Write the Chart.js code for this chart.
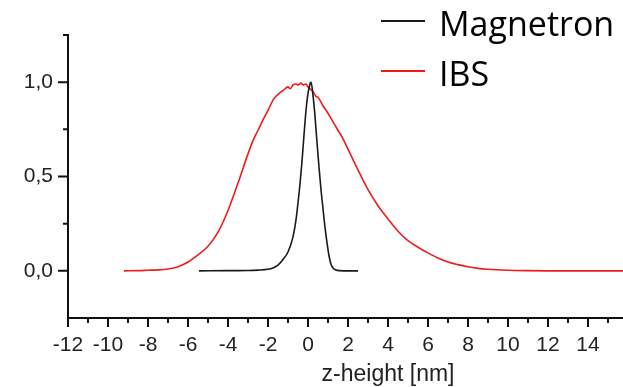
<!DOCTYPE html>
<html>
<head>
<meta charset="utf-8">
<script src="https://cdn.jsdelivr.net/npm/chart.js@4.4.1/dist/chart.umd.min.js"></script>
<style>
  html, body { margin: 0; padding: 0; background: #fff; overflow: hidden; }
</style>
</head>
<body>
<canvas id="profileChart" width="623" height="387"></canvas>
<script>
// z-height profiles
const magnetronX = [-5.45, -4, -3, -2.5, -2, -1.75, -1.5, -1.25, -1, -0.75, -0.6, -0.5, -0.4, -0.3, -0.2, -0.1, 0, 0.1, 0.15, 0.25, 0.35, 0.45, 0.55, 0.65, 0.75, 0.85, 0.95, 1.05, 1.15, 1.25, 1.4, 1.6, 2, 2.5];
const magnetronY = [0, 0.001, 0.002, 0.004, 0.008, 0.015, 0.03, 0.06, 0.1, 0.18, 0.27, 0.36, 0.46, 0.58, 0.72, 0.85, 0.94, 0.99, 1.0, 0.93, 0.82, 0.68, 0.55, 0.43, 0.33, 0.23, 0.15, 0.08, 0.035, 0.015, 0.004, 0.001, 0, 0];

const ibsX = [-9.2, -8.5, -8, -7.5, -7, -6.5, -6, -5.5, -5, -4.5, -4, -3.5, -3, -2.75, -2.5, -2.25, -2, -1.75, -1.6, -1.4, -1.25, -1, -0.9, -0.75, -0.6, -0.5, -0.35, -0.25, -0.1, 0, 0.25, 0.4, 0.5, 0.75, 1, 1.25, 1.5, 1.75, 2, 2.5, 3, 3.5, 4, 4.5, 5, 5.5, 6, 6.5, 7, 7.5, 8, 8.5, 9, 10, 11, 12, 13, 14, 15, 16];
const ibsY = [0, 0.001, 0.003, 0.005, 0.01, 0.022, 0.047, 0.085, 0.13, 0.205, 0.32, 0.465, 0.62, 0.69, 0.745, 0.8, 0.85, 0.905, 0.925, 0.945, 0.955, 0.975, 0.965, 0.985, 0.99, 0.985, 0.995, 0.985, 0.99, 0.975, 0.95, 0.925, 0.92, 0.875, 0.835, 0.79, 0.745, 0.70, 0.645, 0.535, 0.43, 0.345, 0.275, 0.21, 0.16, 0.125, 0.095, 0.068, 0.047, 0.033, 0.022, 0.013, 0.008, 0.003, 0.001, 0, 0, 0, 0, 0];

const seriesNames = ['Magnetron', 'IBS'];
const seriesColors = ['#1a1a1a', '#ee1c1c'];

const xTickValues = [-12, -10, -8, -6, -4, -2, 0, 2, 4, 6, 8, 10, 12, 14];
const yTickValues = [0, 0.5, 1.0];
const xTitle = 'z-height [nm]';

function toPoints(xs, ys) {
    let pts = [];
    for (let i = 0; i < xs.length; i++) {
        pts.push({ x: xs[i], y: ys[i] });
    }
    return pts;
}

// minor/major ticks, axis title and the legend in the top right
const decor = {
    id: 'decor',
    afterDraw(chart) {
        const ctx = chart.ctx;
        const xs = chart.scales.x;
        const ys = chart.scales.y;
        ctx.save();
        ctx.strokeStyle = '#111';
        ctx.lineWidth = 2;
        ctx.beginPath();
        for (let v = -12; v <= 15; v++) {
            let px = xs.getPixelForValue(v);
            let len = v % 2 === 0 ? 9 : 5;
            ctx.moveTo(px, xs.top);
            ctx.lineTo(px, xs.top + len);
        }
        for (let v = 0; v <= 1.25; v += 0.25) {
            let py = ys.getPixelForValue(v);
            let len = (v * 4) % 2 === 0 ? 10 : 5;
            ctx.moveTo(ys.right, py);
            ctx.lineTo(ys.right - len, py);
        }
        ctx.stroke();

        ctx.fillStyle = '#222';
        ctx.font = '23px "Liberation Sans", Arial, sans-serif';
        ctx.textAlign = 'center';
        ctx.textBaseline = 'alphabetic';
        ctx.fillText(xTitle, xs.getPixelForValue(4), 381);

        ctx.textAlign = 'left';
        ctx.font = '34px "Open Sans", "Noto Sans", sans-serif';
        chart.data.datasets.forEach((ds, i) => {
            let lineY = 21 + i * 50;
            ctx.strokeStyle = ds.borderColor;
            ctx.lineWidth = 2;
            ctx.beginPath();
            ctx.moveTo(381, lineY);
            ctx.lineTo(425, lineY);
            ctx.stroke();
            ctx.fillStyle = '#000';
            ctx.fillText(ds.label, 439, lineY + 15);
        });
        ctx.restore();
    }
};

const tickFont = { family: '"Liberation Sans", Arial, sans-serif', size: 21 };

new Chart(document.getElementById('profileChart').getContext('2d'), {
    type: 'line',
    data: {
        datasets: [{
            label: seriesNames[0],
            data: toPoints(magnetronX, magnetronY),
            borderColor: seriesColors[0],
            borderWidth: 1.6,
            pointRadius: 0,
            cubicInterpolationMode: 'monotone'
        }, {
            label: seriesNames[1],
            data: toPoints(ibsX, ibsY),
            borderColor: seriesColors[1],
            borderWidth: 1.6,
            pointRadius: 0,
            cubicInterpolationMode: 'monotone'
        }]
    },
    options: {
        responsive: false,
        animation: false,
        layout: { padding: { top: 35, right: 0, left: 0, bottom: 0 } },
        plugins: {
            legend: { display: false },
            tooltip: { enabled: false }
        },
        scales: {
            x: {
                type: 'linear',
                min: -12,
                max: 15.75,
                afterBuildTicks: (scale) => { scale.ticks = xTickValues.map(v => ({ value: v })); },
                afterFit: (scale) => { scale.height = 69; },
                grid: { drawOnChartArea: false, drawTicks: false },
                border: { display: true, color: '#111', width: 2 },
                ticks: {
                    color: '#222',
                    font: tickFont,
                    padding: 15,
                    maxRotation: 0,
                    autoSkip: false,
                    callback: (v) => String(v)
                }
            },
            y: {
                type: 'linear',
                min: -0.25,
                max: 1.25,
                afterBuildTicks: (scale) => { scale.ticks = yTickValues.map(v => ({ value: v })); },
                afterFit: (scale) => { scale.width = 68; },
                grid: { drawOnChartArea: false, drawTicks: false },
                border: { display: true, color: '#111', width: 2 },
                ticks: {
                    color: '#222',
                    font: tickFont,
                    padding: 15,
                    callback: (v) => v.toFixed(1).replace('.', ',')
                }
            }
        }
    },
    plugins: [decor]
});
</script>
</body>
</html>
